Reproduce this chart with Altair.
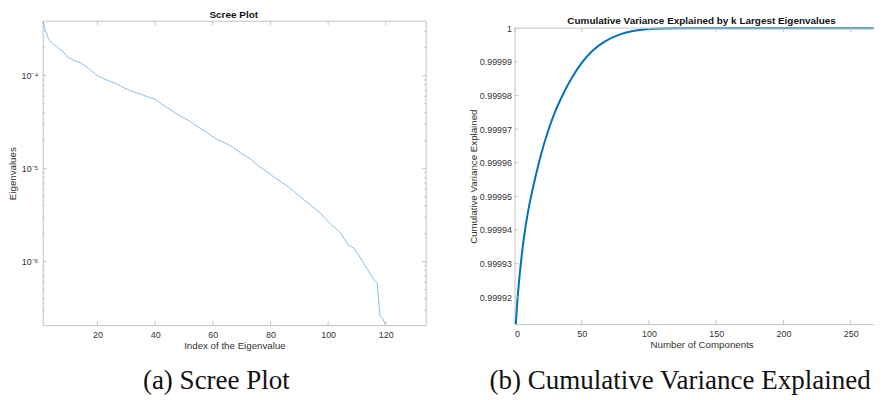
import altair as alt
import pandas as pd

# ---------------- data ----------------
scree_index = [1, 2, 3, 4, 5, 6, 7, 8, 9, 10, 12, 14, 16, 18, 20, 22, 24, 26, 29, 32,
               35, 38, 40, 42, 44, 46, 48, 50, 53, 55, 58, 61, 64, 67, 70, 73, 76, 79,
               82, 85, 88, 91, 94, 97, 99, 101, 104, 107, 109, 111, 113, 115, 116, 117,
               118, 119, 120]
scree_eigen = [3.85e-4, 3.02e-4, 2.51e-4, 2.29e-4, 2.14e-4, 2.04e-4, 1.91e-4, 1.82e-4,
               1.66e-4, 1.56e-4, 1.45e-4, 1.38e-4, 1.26e-4, 1.12e-4, 1.00e-4, 9.33e-5,
               8.77e-5, 8.32e-5, 7.45e-5, 6.76e-5, 6.31e-5, 5.82e-5, 5.56e-5, 5.01e-5,
               4.55e-5, 4.17e-5, 3.80e-5, 3.51e-5, 3.09e-5, 2.78e-5, 2.45e-5, 2.09e-5,
               1.91e-5, 1.70e-5, 1.45e-5, 1.28e-5, 1.06e-5, 9.12e-6, 7.80e-6, 6.76e-6,
               5.75e-6, 4.79e-6, 4.04e-6, 3.39e-6, 2.91e-6, 2.51e-6, 2.09e-6, 1.51e-6,
               1.39e-6, 1.12e-6, 8.91e-7, 7.08e-7, 6.31e-7, 5.89e-7, 2.60e-7, 2.40e-7,
               2.07e-7]

cum_k = [1, 2, 3, 5, 7, 10, 13, 16, 20, 25, 30, 36, 43, 50, 58, 67, 78, 88, 100,
         110, 125, 150, 200, 267]
cum_var = [0.999912, 0.9999183, 0.9999231, 0.9999311, 0.9999377, 0.9999453, 0.9999512,
           0.9999565, 0.9999628, 0.9999695, 0.999975, 0.9999803, 0.9999855, 0.9999897,
           0.9999933, 0.999996, 0.9999981, 0.99999914, 0.99999973, 0.99999992,
           0.99999999, 1.0, 1.0, 1.0]

scree_x_domain = [1, 134]
scree_y_domain = [2.07e-7, 3.85e-4]
scree_x_ticks = [20, 40, 60, 80, 100, 120]
scree_y_major = [1e-6, 1e-5, 1e-4]
scree_y_major_labels = ["10⁻⁶", "10⁻⁵", "10⁻⁴"]
scree_y_minor = [3e-7, 4e-7, 5e-7, 6e-7, 7e-7, 8e-7, 9e-7,
                 2e-6, 3e-6, 4e-6, 5e-6, 6e-6, 7e-6, 8e-6, 9e-6,
                 2e-5, 3e-5, 4e-5, 5e-5, 6e-5, 7e-5, 8e-5, 9e-5,
                 2e-4, 3e-4]

cum_x_domain = [0, 267]
cum_y_domain = [0.999912, 1.0]
cum_x_ticks = [0, 50, 100, 150, 200, 250]
cum_y_ticks = [0.99992, 0.99993, 0.99994, 0.99995, 0.99996, 0.99997, 0.99998, 0.99999, 1.0]

title_a = "Scree Plot"
title_b = "Cumulative Variance Explained by k Largest Eigenvalues"
xlabel_a = "Index of the Eigenvalue"
ylabel_a = "Eigenvalues"
xlabel_b = "Number of Components"
ylabel_b = "Cumulative Variance Explained"
caption_a = "(a) Scree Plot"
caption_b = "(b) Cumulative Variance Explained"

# ---------------- styling ----------------
W1, H1 = 386, 306
W2, H2 = 361.5, 305
TOP2 = 7
CAP_Y = 370
AXC = "#c4c4c4"
LBC = "#333333"
SANS = "Liberation Sans"
SERIF = "Liberation Serif"
MAJ, MIN = 4, 2

df_scree = pd.DataFrame({"index": scree_index, "eigen": scree_eigen})
df_cum = pd.DataFrame({"k": cum_k, "var": cum_var})

# ---------------- left panel ----------------
label_expr_a = " : ".join(
    f"datum.value > {v * 0.5} ? '{lab}'" for v, lab in
    reversed(list(zip(scree_y_major, scree_y_major_labels)))
) + " : ''"

xs_a = alt.Scale(domain=scree_x_domain, nice=False, zero=False)
ys_a = alt.Scale(type="log", domain=scree_y_domain, nice=False)
ax_xa = alt.Axis(values=scree_x_ticks, ticks=False, grid=False, labelPadding=9,
                 labelBaseline="middle", titleY=21, titleBaseline="middle", titleX=W1 / 2)
ax_ya = alt.Axis(values=scree_y_major, ticks=False, grid=False, labelPadding=5,
                 labelExpr=label_expr_a, titleX=-30, titleY=H1 / 2,
                 titleBaseline="middle", titleAngle=-90)


def xa(field):
    return alt.X(field, scale=xs_a, axis=ax_xa, title=xlabel_a)


def ya(field):
    return alt.Y(field, scale=ys_a, axis=ax_ya, title=ylabel_a)


line_a = alt.Chart(df_scree).mark_line(color="#3a93d8", strokeWidth=0.6).encode(
    x=xa("index:Q"), y=ya("eigen:Q"))

df_xt_a = pd.DataFrame({"t": scree_x_ticks})
df_ymaj_a = pd.DataFrame({"t": scree_y_major})
df_ymin_a = pd.DataFrame({"t": scree_y_minor})
df_top_a = pd.DataFrame({"t": [scree_y_domain[1]]})
df_right_a = pd.DataFrame({"t": [scree_x_domain[1]]})

ticks_a = [
    alt.Chart(df_xt_a).mark_rule(color=AXC).encode(
        x=xa("t:Q"), y=alt.value(H1), y2=alt.value(H1 - MAJ)),
    alt.Chart(df_xt_a).mark_rule(color=AXC).encode(
        x=xa("t:Q"), y=alt.value(0), y2=alt.value(MAJ)),
    alt.Chart(df_ymaj_a).mark_rule(color=AXC).encode(
        y=ya("t:Q"), x=alt.value(0), x2=alt.value(MAJ)),
    alt.Chart(df_ymaj_a).mark_rule(color=AXC).encode(
        y=ya("t:Q"), x=alt.value(W1), x2=alt.value(W1 - MAJ)),
    alt.Chart(df_ymin_a).mark_rule(color=AXC).encode(
        y=ya("t:Q"), x=alt.value(0), x2=alt.value(MIN)),
    alt.Chart(df_ymin_a).mark_rule(color=AXC).encode(
        y=ya("t:Q"), x=alt.value(W1), x2=alt.value(W1 - MIN)),
]

box_a = [
    alt.Chart(df_top_a).mark_rule(color=AXC).encode(
        y=ya("t:Q"), x=alt.value(0), x2=alt.value(W1)),
    alt.Chart(df_right_a).mark_rule(color=AXC).encode(
        x=xa("t:Q"), y=alt.value(0), y2=alt.value(H1)),
]

df_title_a = pd.DataFrame({"t": [title_a]})
df_cap_a = pd.DataFrame({"t": [caption_a]})

texts_a = [
    alt.Chart(df_title_a).mark_text(
        font=SANS, fontSize=10, fontWeight="bold", color="#111111", baseline="middle"
    ).encode(text="t:N", x=alt.value(192.3), y=alt.value(-6.7)),
    alt.Chart(df_cap_a).mark_text(
        font=SERIF, fontSize=27.2, color="#111111", baseline="alphabetic"
    ).encode(text="t:N", x=alt.value(174.8), y=alt.value(CAP_Y)),
]

left = alt.layer(line_a, *box_a, *ticks_a, *texts_a).properties(width=W1, height=H1)

# ---------------- right panel ----------------
xs_b = alt.Scale(domain=cum_x_domain, nice=False, zero=False)
ys_b = alt.Scale(domain=cum_y_domain, range=[H2, TOP2], nice=False, zero=False)
ax_xb = alt.Axis(values=cum_x_ticks, ticks=False, grid=False, labelPadding=9,
                 labelBaseline="middle", titleY=21, titleBaseline="middle",
                 titleX=188.4, format="d")
ax_yb = alt.Axis(values=cum_y_ticks, ticks=False, grid=False, labelPadding=3,
                 labelExpr="datum.value >= 1 ? '1' : format(datum.value, '.5f')",
                 titleX=-41.6, titleY=(H2 + TOP2) / 2,
                 titleBaseline="middle", titleAngle=-90)


def xb(field):
    return alt.X(field, scale=xs_b, axis=ax_xb, title=xlabel_b)


def yb(field):
    return alt.Y(field, scale=ys_b, axis=ax_yb, title=ylabel_b)


line_b = alt.Chart(df_cum).mark_line(color="#0072BD", strokeWidth=2,
                                     interpolate="monotone").encode(
    x=xb("k:Q"), y=yb("var:Q"))

df_xt_b = pd.DataFrame({"t": cum_x_ticks})
df_yt_b = pd.DataFrame({"t": cum_y_ticks})
df_top_b = pd.DataFrame({"t": [cum_y_domain[1]]})

ticks_b = [
    alt.Chart(df_xt_b).mark_rule(color=AXC).encode(
        x=xb("t:Q"), y=alt.value(H2), y2=alt.value(H2 - MAJ)),
    alt.Chart(df_xt_b).mark_rule(color=AXC).encode(
        x=xb("t:Q"), y=alt.value(TOP2), y2=alt.value(TOP2 + MAJ)),
    alt.Chart(df_yt_b).mark_rule(color=AXC).encode(
        y=yb("t:Q"), x=alt.value(0), x2=alt.value(MAJ)),
]

box_b = [
    alt.Chart(df_top_b).mark_rule(color=AXC).encode(
        y=yb("t:Q"), x=alt.value(0), x2=alt.value(W2)),
]

df_title_b = pd.DataFrame({"t": [title_b]})
df_cap_b = pd.DataFrame({"t": [caption_b]})

texts_b = [
    alt.Chart(df_title_b).mark_text(
        font=SANS, fontSize=10, fontWeight="bold", color="#111111", baseline="middle"
    ).encode(text="t:N", x=alt.value(188.4), y=alt.value(0)),
    alt.Chart(df_cap_b).mark_text(
        font=SERIF, fontSize=27.2, color="#111111", baseline="alphabetic"
    ).encode(text="t:N", x=alt.value(166.7), y=alt.value(CAP_Y)),
]

right = alt.layer(line_b, *box_b, *ticks_b, *texts_b).properties(width=W2, height=H2)

chart = alt.hconcat(left, right, spacing=89, bounds="flush").properties(
    padding={"left": 0, "top": 0, "right": 0, "bottom": 0}
).configure_view(strokeWidth=0).configure_axis(
    domainColor=AXC, labelColor=LBC, titleColor=LBC, labelFont=SANS, titleFont=SANS,
    labelFontSize=9, titleFontSize=9.8, titleFontWeight="normal"
)

chart.save("out.html", embed_options={"renderer": "svg", "actions": False})
